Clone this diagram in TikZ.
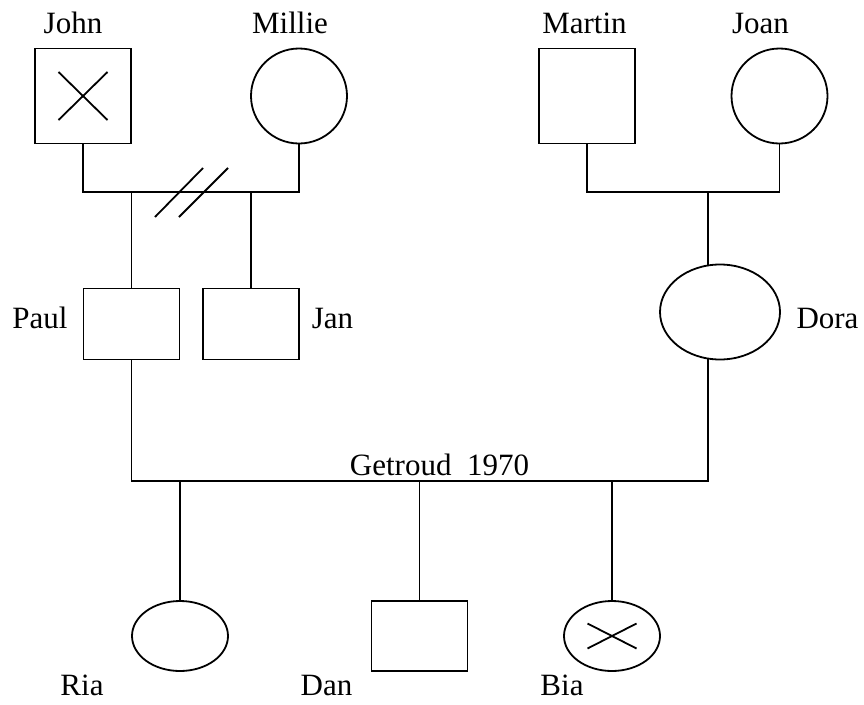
\documentclass[tikz,border=0pt]{standalone}
\usepackage{fontspec}
\setmainfont{Liberation Serif}
\usetikzlibrary{shapes.geometric}

\tikzset{
	person/.style={draw,line width=1.8pt,inner sep=0pt,outer sep=0pt},
	male/.style={person,rectangle,minimum width=96pt,minimum height=#1},
	female/.style={person,ellipse,minimum width=96pt,minimum height=#1},
	personname/.style={anchor=base,inner sep=0pt,font=\fontsize{31}{37}\selectfont},
	link/.style={line width=1.8pt}
}

\begin{document}
\begin{tikzpicture}[x=1pt,y=-1pt]
	\useasboundingbox (0,0) rectangle (864,704);
	% first generation
	\node[male=95pt] (john) at (83,96) {};
	\node[female=95pt] (millie) at (299,96) {};
	\node[male=95pt] (martin) at (587,96) {};
	\node[female=95pt] (joan) at (779.5,96) {};
	% second generation
	\node[male=71pt] (paul) at (131.5,324) {};
	\node[male=71pt] (jan) at (251,324) {};
	\node[female=95pt,minimum width=120pt] (dora) at (720,312) {};
	% third generation
	\node[female=70pt] (ria) at (180,636) {};
	\node[male=70pt] (dan) at (419.5,636) {};
	\node[female=70pt] (bia) at (612,636) {};

	\node[personname] (johnlbl) at (73,33) {John};
	\node[personname] (millielbl) at (290,33) {Millie};
	\node[personname] (martinlbl) at (584.5,33) {Martin};
	\node[personname] (joanlbl) at (760.5,33) {Joan};
	\node[personname] (paullbl) at (40,328) {Paul};
	\node[personname] (janlbl) at (332.5,328) {Jan};
	\node[personname] (doralbl) at (827.5,328) {Dora};
	\node[personname] (weddinglbl) at (439.5,475) {Getroud\ \ 1970};
	\node[personname] (rialbl) at (82,695) {Ria};
	\node[personname] (danlbl) at (326.5,695) {Dan};
	\node[personname] (bialbl) at (562,695) {Bia};

	\coordinate (jm) at (132,192);
	\coordinate (mj) at (708,192);
	\coordinate (pd) at (420,481);

	% crossed out
	\draw[link] ([shift={(-24.5,-24)}]john.center) -- ([shift={(24.5,24)}]john.center)
		([shift={(-24.5,24)}]john.center) -- ([shift={(24.5,-24)}]john.center);
	\draw[link] ([shift={(-24.5,-12.5)}]bia.center) -- ([shift={(24.5,12.5)}]bia.center)
		([shift={(-24.5,12.5)}]bia.center) -- ([shift={(24.5,-12.5)}]bia.center);

	% couples
	\draw[link] (john.south) |- (jm) -| (millie.south);
	\draw[link] (martin.south) |- (mj) -| (joan.south);
	\draw[link] (paul.south) |- (pd) -| (dora.256);

	% children
	\draw[link] (paul.north) -- (paul.north |- jm);
	\draw[link] (jan.north) -- (jan.north |- jm);
	\draw[link] (dora.104) -- (dora.104 |- mj);
	\draw[link] (ria.north) -- (ria.north |- pd);
	\draw[link] (dan.north) -- (dan.north |- pd);
	\draw[link] (bia.north) -- (bia.north |- pd);

	% divorced
	\draw[link] (155,217) -- (203,168);
	\draw[link] (179,217) -- (228,168);
\end{tikzpicture}
\end{document}
